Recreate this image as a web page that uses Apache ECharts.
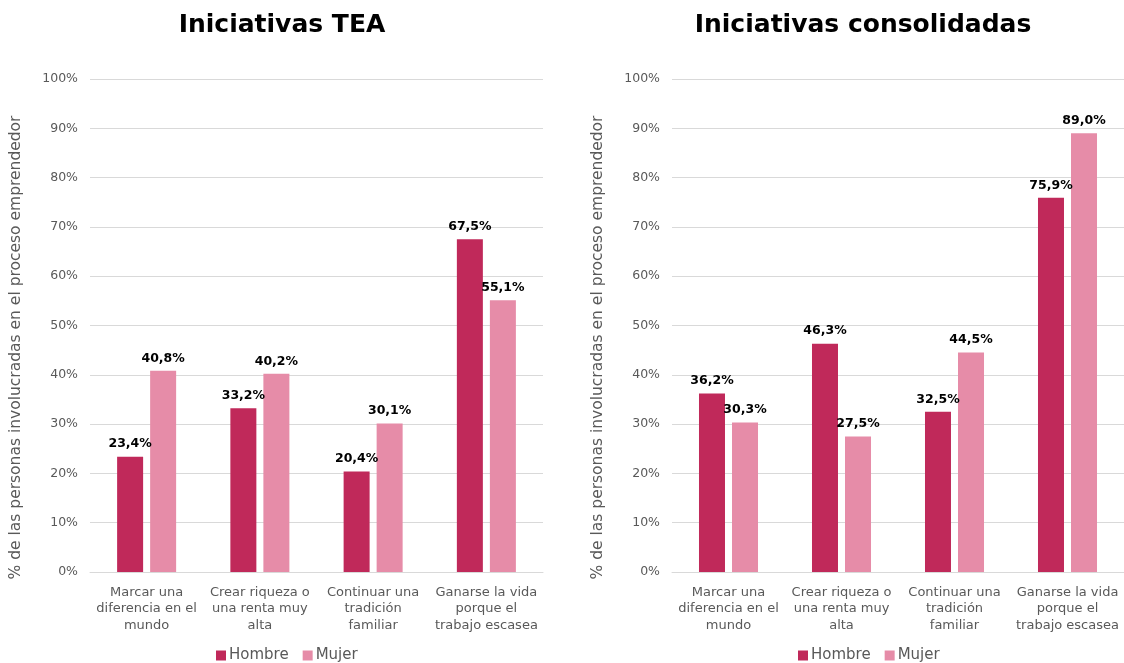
<!DOCTYPE html>
<html><head><meta charset="utf-8">
<script src="https://cdn.jsdelivr.net/npm/echarts@6/dist/echarts.min.js"></script>
<style>html,body{margin:0;padding:0;background:#fff}#c{width:1124px;height:663px}</style>
</head><body><div id="c"></div>
<script>
const categories = ["Marcar una\ndiferencia en el\nmundo","Crear riqueza o\nuna renta muy\nalta","Continuar una\ntradición\nfamiliar","Ganarse la vida\nporque el\ntrabajo escasea"];
const titles = ["Iniciativas TEA","Iniciativas consolidadas"];
const seriesNames = ["Hombre","Mujer"];
const teaHombre = [23.4,33.2,20.4,67.5];
const teaMujer = [40.8,40.2,30.1,55.1];
const consHombre = [36.2,46.3,32.5,75.9];
const consMujer = [30.3,27.5,44.5,89.0];
const yAxisName = "% de las personas involucradas en el proceso emprendedor";

const FONT = "DejaVu Sans";
const colors = ["#C0295A","#E68CA8"];
const chart = echarts.init(document.getElementById('c'), null, {renderer:'canvas'});
const fmt = p => p.value.toFixed(1).replace('.',',') + '%';
const grids = [{left:90, top:79, width:453, height:493},{left:672, top:79, width:453, height:493}];
function xAx(i){return {type:'category', gridIndex:i, data:categories,
  axisLine:{lineStyle:{color:'#d9d9d9', width:1}}, axisTick:{show:false},
  axisLabel:{color:'#595959', fontFamily:FONT, fontSize:13, lineHeight:16.5, margin:12, interval:0}};}
function yAx(i){return {type:'value', gridIndex:i, min:0, max:100, interval:10,
  name:yAxisName, nameLocation:'middle', nameGap:66,
  nameTextStyle:{color:'#595959', fontFamily:FONT, fontSize:15.5, padding:[0,44,0,0]},
  axisLabel:{color:'#595959', fontFamily:FONT, fontSize:12.5, formatter:'{value}%', margin:12},
  splitLine:{lineStyle:{color:'#d9d9d9', width:1}}, axisLine:{show:false}, axisTick:{show:false}};}
function ser(name, data, i, c){return {type:'bar', name:name, data:data, xAxisIndex:i, yAxisIndex:i,
  barWidth:26, barGap:'27%', itemStyle:{color:c},
  label:{show:true, position:'top', distance:6, formatter:fmt, color:'#000', fontWeight:'bold', fontFamily:FONT, fontSize:12.5}};}
const legendBase = {data:seriesNames, top:643, itemWidth:10, itemHeight:10, itemGap:14, icon:'rect',
  textStyle:{color:'#595959', fontFamily:FONT, fontSize:15, padding:[0,0,0,-2]}};
chart.setOption({
  animation:false,
  title:[
    {text:titles[0], left:277, top:8, textAlign:'center', textStyle:{fontFamily:FONT, fontWeight:'bold', fontSize:25, color:'#000'}},
    {text:titles[1], left:858, top:8, textAlign:'center', textStyle:{fontFamily:FONT, fontWeight:'bold', fontSize:25, color:'#000'}}
  ],
  legend:[Object.assign({left:211}, legendBase), Object.assign({left:793}, legendBase)],
  grid:grids,
  xAxis:[xAx(0), xAx(1)],
  yAxis:[yAx(0), yAx(1)],
  series:[ser(seriesNames[0], teaHombre, 0, colors[0]), ser(seriesNames[1], teaMujer, 0, colors[1]),
          ser(seriesNames[0], consHombre, 1, colors[0]), ser(seriesNames[1], consMujer, 1, colors[1])]
});
</script></body></html>
